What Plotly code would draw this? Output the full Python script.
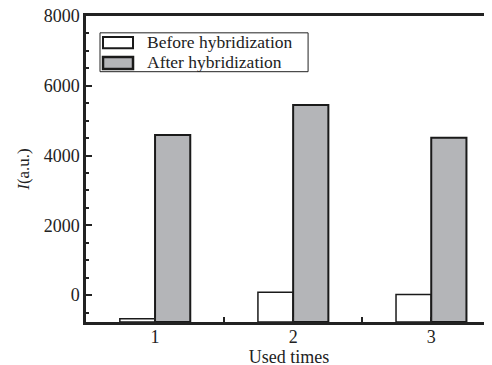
import plotly.graph_objects as go

categories = [1, 2, 3]
cat_labels = ["1", "2", "3"]
before = [-674, 86, 20]
after = [4591, 5449, 4514]
series_names = ["Before hybridization", "After hybridization"]
y_min = -770

base = [y_min] * len(categories)
FONT = "Liberation Serif"
EDGE = "#1a1a1a"
FILLS = ["white", "#b4b5b8"]
EDGE_W = [1.5, 2]

fig = go.Figure()
for vals, name, fill, ew in zip([before, after], series_names, FILLS, EDGE_W):
    fig.add_trace(go.Bar(
        x=categories, y=[v - y_min for v in vals], base=base,
        name=name, showlegend=False,
        marker=dict(color=fill, line=dict(color=EDGE, width=ew)),
    ))

# custom legend (wide rectangle keys as in the original)
shapes = [dict(type="rect", xref="paper", yref="paper", x0=0.0345, x1=0.547,
               y0=0.818, y1=0.945, line=dict(color="#222", width=1), fillcolor="white",
               layer="above")]
annotations = []
key_rows = [(0.931, 0.895, 0.915), (0.866, 0.827, 0.850)]
for (k_top, k_bot, t_y), name, fill, ew in zip(key_rows, series_names, FILLS, EDGE_W):
    shapes.append(dict(type="rect", xref="paper", yref="paper", x0=0.0419, x1=0.1158,
                       y0=k_bot, y1=k_top, line=dict(color=EDGE, width=ew + 0.5),
                       fillcolor=fill, layer="above"))
    annotations.append(dict(xref="paper", yref="paper", x=0.1453, y=t_y, text=name,
                            showarrow=False, xanchor="left", yanchor="middle",
                            font=dict(family=FONT, size=17.5, color="#222")))

# page has an 8px body margin; margins compensate for it
fig.update_layout(
    width=492, height=365,
    margin=dict(l=78, r=8, t=8, b=51),
    paper_bgcolor="white", plot_bgcolor="white",
    barmode="group", bargap=0.49, bargroupgap=0,
    font=dict(family=FONT, size=18, color="#222"),
    shapes=shapes, annotations=annotations,
    xaxis=dict(
        range=[0.5, 3.44], tickmode="array",
        tickvals=[1, 1.5, 2, 2.5, 3], ticktext=["1", "", "2", "", "3"],
        ticks="inside", ticklen=5, tickwidth=2, tickcolor="#222",
        showline=True, linewidth=2.5, linecolor="#222", mirror=True,
        showgrid=False, zeroline=False, automargin=False,
        ticklabelstandoff=-3,
        title=dict(text="Used times", standoff=0, font=dict(family=FONT, size=18)),
        tickfont=dict(family=FONT, size=18),
    ),
    yaxis=dict(
        range=[y_min, 8000], tickmode="array",
        tickvals=[0, 2000, 4000, 6000, 8000],
        ticks="inside", ticklen=6, tickwidth=2, tickcolor="#222",
        minor=dict(dtick=500, tick0=0, ticks="inside", ticklen=3, tickwidth=2, tickcolor="#222"),
        showline=True, linewidth=2.5, linecolor="#222",
        showgrid=False, zeroline=False, automargin=False,
        ticklabeloverflow="allow",
        title=dict(text="<i>I</i>(a.u.)", standoff=10, font=dict(family=FONT, size=17)),
        tickfont=dict(family=FONT, size=18),
    ),
)

fig.write_html("out.html")
